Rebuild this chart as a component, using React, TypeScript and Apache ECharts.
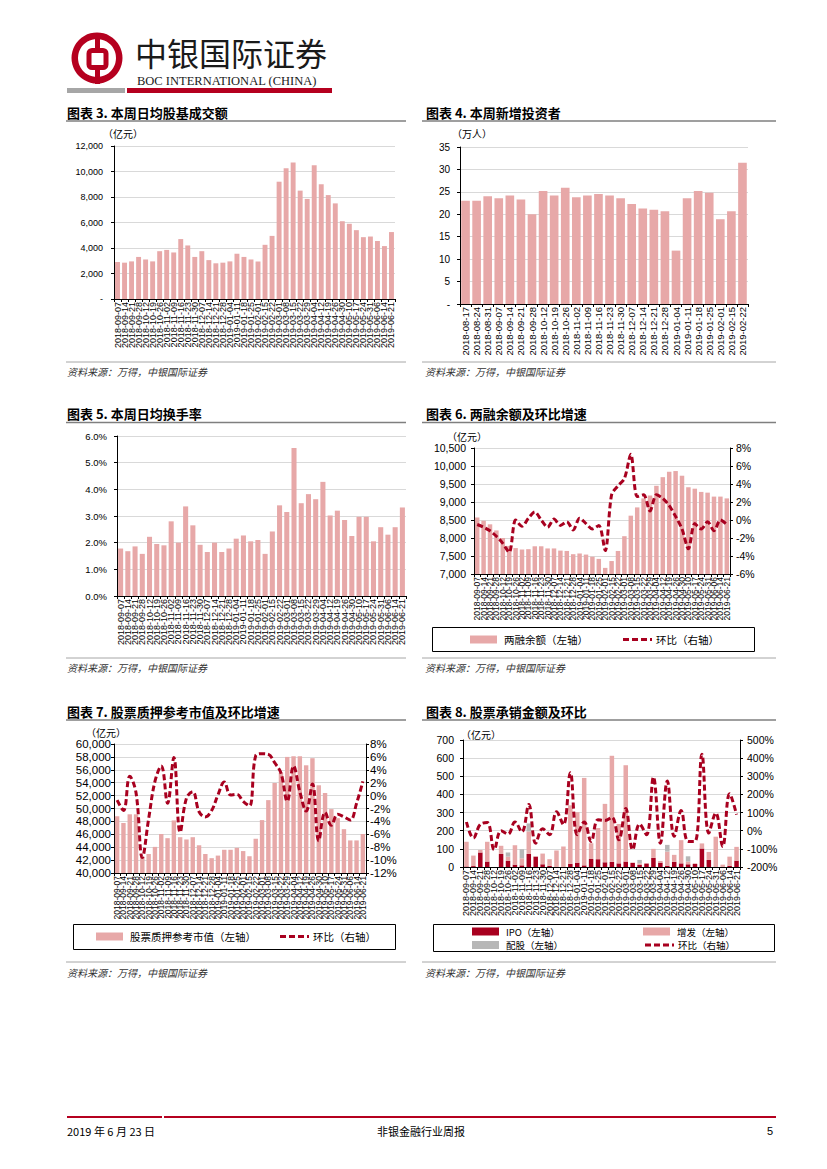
import React, { useEffect, useRef } from 'react';
import * as echarts from 'echarts';

// ---------------- DATA ----------------
const WEEKS = [
  '2018-09-07', '2018-09-14', '2018-09-21', '2018-09-28', '2018-10-12', '2018-10-19', '2018-10-26',
  '2018-11-02', '2018-11-09', '2018-11-16', '2018-11-23', '2018-11-30', '2018-12-07', '2018-12-14',
  '2018-12-21', '2018-12-28', '2019-01-04', '2019-01-11', '2019-01-18', '2019-01-25', '2019-02-01',
  '2019-02-15', '2019-02-22', '2019-03-01', '2019-03-08', '2019-03-15', '2019-03-22', '2019-03-29',
  '2019-04-04', '2019-04-12', '2019-04-19', '2019-04-26', '2019-04-30', '2019-05-10', '2019-05-17',
  '2019-05-24', '2019-05-31', '2019-06-06', '2019-06-14', '2019-06-21',
];

const INVESTOR_WEEKS = [
  '2018-08-17', '2018-08-24', '2018-08-31', '2018-09-07', '2018-09-14', '2018-09-21', '2018-09-28',
  '2018-10-12', '2018-10-19', '2018-10-26', '2018-11-02', '2018-11-09', '2018-11-16', '2018-11-23',
  '2018-11-30', '2018-12-07', '2018-12-14', '2018-12-21', '2018-12-28', '2019-01-04', '2019-01-11',
  '2019-01-18', '2019-01-25', '2019-02-01', '2019-02-15', '2019-02-22',
];

// 图表3 本周日均股基成交额（亿元）
const DAILY_TURNOVER = [
  2900, 2850, 2950, 3300, 3100, 2950, 3750, 3850, 3650, 4700, 4200, 3300, 3750, 3050, 2800, 2850,
  2950, 3550, 3300, 3100, 2950, 4250, 4950, 9200, 10250, 10700, 8500, 7850, 10500, 9000, 8150, 7500,
  6100, 5900, 5400, 4850, 4900, 4550, 4150, 5250,
];

// 图表4 本周新增投资者（万人）
const NEW_INVESTORS = [
  23.0, 23.0, 24.0, 23.6, 24.2, 23.3, 20.0, 25.2, 24.2, 25.9, 23.8, 24.2, 24.5, 24.2, 23.6, 22.3,
  21.3, 21.0, 20.7, 11.9, 23.6, 25.2, 24.8, 18.9, 20.7, 31.5,
];

// 图表5 本周日均换手率（%）
const TURNOVER_RATE = [
  1.78, 1.68, 1.86, 1.58, 2.22, 1.95, 1.90, 2.80, 2.00, 3.36, 2.65, 1.92, 1.65, 2.00, 1.65, 1.78,
  2.15, 2.27, 2.05, 2.10, 1.58, 2.42, 3.40, 3.15, 5.55, 3.48, 3.82, 3.63, 4.28, 3.02, 3.20, 2.85,
  2.25, 2.97, 2.97, 2.05, 2.58, 2.30, 2.58, 3.32,
];

// 图表6 两融余额（亿元）及环比（%）
const MARGIN_BALANCE = [
  8570, 8480, 8380, 8210, 8000, 7780, 7720, 7680, 7690, 7770, 7770, 7710, 7710, 7650, 7640, 7550,
  7570, 7540, 7480, 7420, 7170, 7360, 7640, 8050, 8620, 8850, 9100, 9180, 9450, 9690, 9840, 9860,
  9730, 9410, 9370, 9280, 9260, 9150, 9150, 9100,
];
const MARGIN_QOQ = [
  -0.5, -0.8, -1.2, -1.8, -2.6, -3.6, 0.0, -0.7, 0.2, 0.9, 0.0, -0.8, 0.1, -0.6, -0.2, -1.1,
  0.2, -0.4, -1.0, -0.6, -3.4, 2.8, 3.8, 4.6, 7.3, 2.6, 2.8, 1.0, 2.8, 2.4, 1.6, 0.4,
  -1.0, -3.2, -0.4, -1.0, -0.2, -1.2, 0.0, -0.5,
];

// 图表7 股票质押参考市值（亿元）及环比（%）
const PLEDGE_VALUE = [
  48800, 47750, 49100, 49100, 42500, 42950, 44050, 46050, 45400, 48150, 45550, 45200, 45550, 44300,
  42950, 42300, 42700, 43600, 43600, 43900, 43400, 42600, 45300, 48200, 51300, 53950, 55550, 58000,
  58100, 58100, 56700, 57800, 53600, 52400, 49900, 48500, 46800, 45050, 45050, 46050,
];
const PLEDGE_QOQ = [
  -0.7, -2.3, 3.0, 0.4, -9.6, -3.6, 2.2, 4.6, -1.2, 5.9, -5.7, -0.4, 0.6, -2.5, -3.3, -2.3,
  0.1, 2.1, 0.1, 0.2, -0.9, -1.6, 6.2, 6.5, 6.4, 5.1, 3.5, -0.9, 4.6, 0.6, -2.4, 1.8,
  -7.0, -2.6, -4.6, -2.9, -3.3, -3.8, -1.2, 2.2,
];

// 图表8 股票承销金额（亿元）及环比（%）
const IPO = [
  3, 5, 80, 30, 0, 72, 33, 13, 9, 72, 57, 15, 6, 0, 0, 17, 24, 9, 44, 43,
  26, 28, 20, 30, 22, 11, 19, 50, 24, 7, 28, 20, 15, 17, 102, 39, 0, 0, 7, 35,
];
const ZENGFA = [
  136, 58, 14, 109, 0, 45, 24, 107, 39, 124, 2, 59, 37, 91, 113, 323, 278, 482, 87, 172,
  322, 585, 217, 531, 3, 9, 1, 50, 9, 78, 39, 128, 15, 3, 28, 44, 167, 13, 50, 76,
];
const PEIGU = [
  0, 0, 0, 0, 0, 0, 23, 0, 50, 44, 0, 0, 0, 0, 0, 0, 0, 0, 0, 0,
  0, 0, 0, 0, 0, 19, 0, 0, 0, 37, 0, 0, 29, 0, 0, 0, 0, 0, 0, 0,
];
const UNDERWRITE_QOQ = [
  48, -40, 35, 45, -105, 0, -19, 48, -7, 144, -69, 11, -22, 104, 33, 320, -22, 48, -59, 61,
  56, 74, -50, 122, -105, 37, -22, 296, -69, 274, -31, 111, -59, -59, 422, -13, 98, -87, 204, 89,
];

// ---------------- STYLE ----------------
const LATIN = '"Liberation Sans", Arial, sans-serif';
const CJK = '"Noto Sans CJK SC", sans-serif';
const PINK = '#E7A8A8';
const DARK_RED = '#A8001F';
const GREY_BAR = '#B7B7B7';
const BRAND_RED = '#B5001F';

const thousands = (v: number) => (v === 0 ? '-' : v.toLocaleString('en-US'));
const commas = (v: number) => v.toLocaleString('en-US');

function catAxis(grid: number, data: string[], fontSize = 9) {
  return {
    type: 'category',
    gridIndex: grid,
    data,
    boundaryGap: true,
    axisLine: { show: true, onZero: false, lineStyle: { color: '#000', width: 1 } },
    axisTick: { show: true, length: 3, lineStyle: { color: '#000' } },
    axisLabel: { interval: 0, rotate: 90, fontSize, fontFamily: LATIN, color: '#000', margin: 3 },
    splitLine: { show: false },
  };
}

function valAxis(
  grid: number, min: number, max: number, interval: number,
  fmt: any, fontSize: number, position: 'left' | 'right' = 'left', split = true, margin = 8,
) {
  return {
    type: 'value',
    gridIndex: grid,
    min, max, interval, position,
    axisLine: { show: true, lineStyle: { color: '#000', width: 1 } },
    axisTick: { show: true, length: 3, lineStyle: { color: '#000' } },
    axisLabel: { formatter: fmt, fontSize, fontFamily: LATIN, color: '#000', margin },
    splitLine: { show: split, lineStyle: { color: '#D9D9D9', width: 1 } },
  };
}

function text(x: number, y: number, t: string, font: string, extra: any = {}) {
  return {
    type: 'text', x, y, silent: true,
    style: { text: t, font, fill: '#000', verticalAlign: 'middle', align: 'left', ...extra },
  };
}
function hline(x1: number, x2: number, y: number, stroke: string, lineWidth: number, extra: any = {}) {
  return { type: 'line', silent: true, shape: { x1, y1: y, x2, y2: y }, style: { stroke, lineWidth, ...extra } };
}

const TITLE_FONT = `bold 13px ${CJK}`;
const SRC_FONT = `italic 10px ${CJK}`;
const UNIT_FONT = `10px ${CJK}`;
const SOURCE = '资料来源：万得，中银国际证券';
const RING_LEGEND = '环比（右轴）';

function buildGraphics() {
  const g: any[] = [];
  // logo
  g.push({ type: 'ring', silent: true, shape: { cx: 97, cy: 58, r: 25.5, r0: 19 }, style: { fill: BRAND_RED } });
  g.push({ type: 'rect', silent: true, shape: { x: 89, y: 50.5, width: 17, height: 17, r: 3 }, style: { fill: 'none', stroke: BRAND_RED, lineWidth: 5 } });
  g.push({ type: 'rect', silent: true, shape: { x: 95, y: 34, width: 5, height: 15 }, style: { fill: BRAND_RED } });
  g.push({ type: 'rect', silent: true, shape: { x: 95, y: 69, width: 5, height: 15 }, style: { fill: BRAND_RED } });
  g.push(text(135, 52, '中银国际证券', `32px ${CJK}`, { fill: '#1a1a1a' }));
  g.push(text(137, 81, 'BOC INTERNATIONAL (CHINA)', `12.5px "Liberation Serif", serif`, { fill: '#1a1a1a' }));
  g.push({ type: 'rect', silent: true, shape: { x: 67, y: 88, width: 58, height: 5 }, style: { fill: '#A6A6A6' } });
  g.push({ type: 'rect', silent: true, shape: { x: 127, y: 88, width: 205, height: 5 }, style: { fill: BRAND_RED } });

  // titles
  const titles: [number, number, string][] = [
    [67, 112, '图表 3. 本周日均股基成交额'],
    [426, 112, '图表 4. 本周新增投资者'],
    [67, 413, '图表 5. 本周日均换手率'],
    [426, 413, '图表 6. 两融余额及环比增速'],
    [67, 711, '图表 7. 股票质押参考市值及环比增速'],
    [426, 711, '图表 8. 股票承销金额及环比'],
  ];
  titles.forEach(([x, y, t]) => g.push(text(x, y, t, TITLE_FONT)));
  [121, 422.5, 720].forEach((y) => {
    g.push(hline(66, 406, y, '#7F7F7F', 1.5));
    g.push(hline(422, 776, y, '#7F7F7F', 1.5));
  });
  // sources
  [[362, 371], [658, 667], [962, 972]].forEach(([ly, ty]) => {
    g.push(hline(66, 406, ly, '#A6A6A6', 1));
    g.push(hline(422, 776, ly, '#A6A6A6', 1));
    g.push(text(67, ty, SOURCE, SRC_FONT, { fill: '#333' }));
    g.push(text(425, ty, SOURCE, SRC_FONT, { fill: '#333' }));
  });
  // units
  g.push(text(103, 133, '（亿元）', UNIT_FONT));
  g.push(text(452, 133, '（万人）', UNIT_FONT));
  g.push(text(447, 436, '（亿元）', UNIT_FONT));
  g.push(text(86, 732, '（亿元）', UNIT_FONT));
  g.push(text(461, 734, '（亿元）', UNIT_FONT));
  // legend boxes
  g.push({ type: 'rect', silent: true, shape: { x: 432.5, y: 627.5, width: 322, height: 24 }, style: { fill: 'none', stroke: '#000', lineWidth: 1 } });
  g.push({ type: 'rect', silent: true, shape: { x: 73.5, y: 924.5, width: 322, height: 25 }, style: { fill: 'none', stroke: '#000', lineWidth: 1 } });
  g.push({ type: 'rect', silent: true, shape: { x: 433.5, y: 924.5, width: 341, height: 27 }, style: { fill: 'none', stroke: '#000', lineWidth: 1 } });
  // dashed-line legend entries (环比)
  const lineLegends: [number, number, number][] = [
    [623, 639.5, 10.5],
    [280, 936.5, 10.5],
    [645, 945, 9.5],
  ];
  lineLegends.forEach(([x, y, fs]) => {
    g.push(hline(x, x + 29, y, DARK_RED, 3, { lineDash: [6, 3] }));
    g.push(text(x + 33, y, RING_LEGEND, `${fs}px ${CJK}`));
  });
  // footer
  g.push(hline(67, 162, 1117, BRAND_RED, 2));
  g.push(hline(164, 776, 1117, BRAND_RED, 2));
  g.push(text(67, 1131, '2019 年 6 月 23 日', `11px ${CJK}`));
  g.push(text(421, 1131, '非银金融行业周报', `11px ${CJK}`, { align: 'center' }));
  g.push(text(773, 1131, '5', `11px ${LATIN}`, { align: 'right' }));
  return g;
}

function legendItem(name: string, left: number, top: number, fontSize = 10.5, lineHeight = 14) {
  return {
    data: [name],
    left, top,
    orient: 'horizontal',
    itemWidth: 27,
    itemHeight: 8,
    icon: 'rect',
    padding: 0,
    selectedMode: false,
    textStyle: { fontSize, lineHeight, fontFamily: CJK, color: '#000', padding: [0, 0, 0, 2] },
  };
}

const dashed = { color: DARK_RED, width: 3, type: [6, 3] as any };

function buildOption() {
  return {
    animation: false,
    backgroundColor: '#fff',
    grid: [
      { left: 114, top: 146, width: 281, height: 153 },
      { left: 460, top: 147, width: 288, height: 157 },
      { left: 117, top: 436, width: 289, height: 160 },
      { left: 474, top: 448, width: 256, height: 126 },
      { left: 114, top: 744, width: 252, height: 129 },
      { left: 463, top: 740, width: 277, height: 127 },
    ],
    xAxis: [
      catAxis(0, WEEKS, 9),
      catAxis(1, INVESTOR_WEEKS, 9.5),
      catAxis(2, WEEKS, 9),
      catAxis(3, WEEKS, 8.5),
      catAxis(4, WEEKS, 8.5),
      catAxis(5, WEEKS, 9),
    ],
    yAxis: [
      valAxis(0, 0, 12000, 2000, thousands, 9, 'left', true, 11),
      valAxis(1, 0, 35, 5, (v: number) => (v === 0 ? '-' : String(v)), 10, 'left', true, 10),
      valAxis(2, 0, 6, 1, (v: number) => v.toFixed(1) + '%', 9.5, 'left', true, 10),
      valAxis(3, 7000, 10500, 500, commas, 10.5, 'left', true, 8),
      valAxis(3, -6, 8, 2, (v: number) => v + '%', 10.5, 'right', false, 6),
      valAxis(4, 40000, 60000, 2000, commas, 11.5, 'left', true, 3),
      valAxis(4, -12, 8, 2, (v: number) => v + '%', 11.5, 'right', false, 4),
      valAxis(5, 0, 700, 100, (v: number) => String(v), 10.5, 'left', true, 9),
      valAxis(5, -200, 500, 100, (v: number) => v + '%', 10.5, 'right', false, 7),
    ],
    legend: [
      legendItem('两融余额（左轴）', 470, 632.5),
      legendItem('股票质押参考市值（左轴）', 96, 929.5),
      legendItem('IPO（左轴）', 472, 926.5, 9.5, 10),
      legendItem('增发（左轴）', 643, 926.5, 9.5, 10),
      legendItem('配股（左轴）', 472, 940, 9.5, 10),
    ],
    series: [
      { name: '日均股基成交额', type: 'bar', xAxisIndex: 0, yAxisIndex: 0, data: DAILY_TURNOVER, barCategoryGap: '30%', itemStyle: { color: PINK } },
      { name: '新增投资者', type: 'bar', xAxisIndex: 1, yAxisIndex: 1, data: NEW_INVESTORS, barCategoryGap: '22%', itemStyle: { color: PINK } },
      { name: '日均换手率', type: 'bar', xAxisIndex: 2, yAxisIndex: 2, data: TURNOVER_RATE, barCategoryGap: '30%', itemStyle: { color: PINK } },
      { name: '两融余额（左轴）', type: 'bar', xAxisIndex: 3, yAxisIndex: 3, data: MARGIN_BALANCE, barCategoryGap: '30%', itemStyle: { color: PINK } },
      { name: '两融环比', type: 'line', xAxisIndex: 3, yAxisIndex: 4, data: MARGIN_QOQ, smooth: 0.3, symbol: 'none', lineStyle: dashed, itemStyle: { color: DARK_RED } },
      { name: '股票质押参考市值（左轴）', type: 'bar', xAxisIndex: 4, yAxisIndex: 5, data: PLEDGE_VALUE, barCategoryGap: '30%', itemStyle: { color: PINK } },
      { name: '质押环比', type: 'line', xAxisIndex: 4, yAxisIndex: 6, data: PLEDGE_QOQ, smooth: 0.4, symbol: 'none', lineStyle: dashed, itemStyle: { color: DARK_RED } },
      { name: 'IPO（左轴）', type: 'bar', stack: 'uw', xAxisIndex: 5, yAxisIndex: 7, data: IPO, barCategoryGap: '35%', itemStyle: { color: DARK_RED } },
      { name: '增发（左轴）', type: 'bar', stack: 'uw', xAxisIndex: 5, yAxisIndex: 7, data: ZENGFA, barCategoryGap: '35%', itemStyle: { color: PINK } },
      { name: '配股（左轴）', type: 'bar', stack: 'uw', xAxisIndex: 5, yAxisIndex: 7, data: PEIGU, barCategoryGap: '35%', itemStyle: { color: GREY_BAR } },
      { name: '承销环比', type: 'line', xAxisIndex: 5, yAxisIndex: 8, data: UNDERWRITE_QOQ, smooth: 0.4, symbol: 'none', lineStyle: dashed, itemStyle: { color: DARK_RED } },
    ],
    graphic: { elements: buildGraphics() },
  };
}

export default function App() {
  const ref = useRef<HTMLDivElement>(null);
  useEffect(() => {
    if (!ref.current) return;
    const chart = echarts.init(ref.current, undefined, { renderer: 'svg' });
    chart.setOption(buildOption() as any);
    return () => chart.dispose();
  }, []);
  return (
    <div
      ref={ref}
      style={{ position: 'absolute', left: 0, top: 0, width: 827, height: 1169, background: '#fff' }}
    />
  );
}
